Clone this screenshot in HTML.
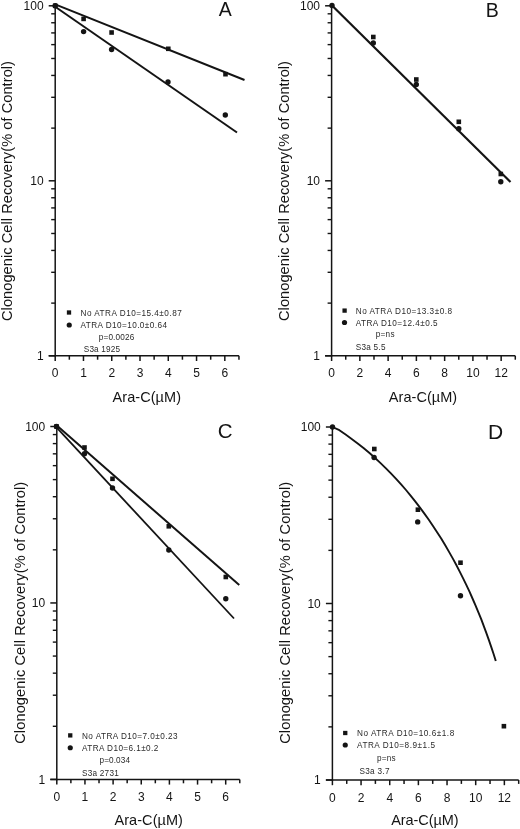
<!DOCTYPE html>
<html lang="en">
<head>
<meta charset="utf-8">
<title>Clonogenic Cell Recovery vs Ara-C</title>
<style>
html,body{margin:0;padding:0;background:#fff;}
body{width:520px;height:829px;overflow:hidden;}
svg{display:block;}
text{white-space:pre;}
</style>
</head>
<body>
<svg width="520" height="829" viewBox="0 0 520 829" font-family='"Liberation Sans", Arial, Helvetica, sans-serif' fill="#141414">
<rect width="520" height="829" fill="#ffffff"/>
<defs><filter id="scan" x="0" y="0" width="100%" height="100%" filterUnits="userSpaceOnUse" color-interpolation-filters="sRGB"><feGaussianBlur stdDeviation="0.38"/></filter></defs>
<g filter="url(#scan)">
<g id="panel-A">
<line x1="55.20" y1="5.30" x2="55.20" y2="356.55" stroke="#141414" stroke-width="1.5" stroke-linecap="butt"/>
<line x1="48.70" y1="355.80" x2="238.95" y2="355.80" stroke="#141414" stroke-width="1.5" stroke-linecap="butt"/>
<line x1="48.70" y1="355.80" x2="55.20" y2="355.80" stroke="#141414" stroke-width="1.5" stroke-linecap="butt"/>
<line x1="51.20" y1="303.12" x2="55.20" y2="303.12" stroke="#141414" stroke-width="1.4" stroke-linecap="butt"/>
<line x1="51.20" y1="272.30" x2="55.20" y2="272.30" stroke="#141414" stroke-width="1.4" stroke-linecap="butt"/>
<line x1="51.20" y1="250.44" x2="55.20" y2="250.44" stroke="#141414" stroke-width="1.4" stroke-linecap="butt"/>
<line x1="51.20" y1="233.48" x2="55.20" y2="233.48" stroke="#141414" stroke-width="1.4" stroke-linecap="butt"/>
<line x1="51.20" y1="219.62" x2="55.20" y2="219.62" stroke="#141414" stroke-width="1.4" stroke-linecap="butt"/>
<line x1="51.20" y1="207.91" x2="55.20" y2="207.91" stroke="#141414" stroke-width="1.4" stroke-linecap="butt"/>
<line x1="51.20" y1="197.76" x2="55.20" y2="197.76" stroke="#141414" stroke-width="1.4" stroke-linecap="butt"/>
<line x1="51.20" y1="188.81" x2="55.20" y2="188.81" stroke="#141414" stroke-width="1.4" stroke-linecap="butt"/>
<line x1="48.70" y1="180.80" x2="55.20" y2="180.80" stroke="#141414" stroke-width="1.5" stroke-linecap="butt"/>
<line x1="51.20" y1="128.12" x2="55.20" y2="128.12" stroke="#141414" stroke-width="1.4" stroke-linecap="butt"/>
<line x1="51.20" y1="97.30" x2="55.20" y2="97.30" stroke="#141414" stroke-width="1.4" stroke-linecap="butt"/>
<line x1="51.20" y1="75.44" x2="55.20" y2="75.44" stroke="#141414" stroke-width="1.4" stroke-linecap="butt"/>
<line x1="51.20" y1="58.48" x2="55.20" y2="58.48" stroke="#141414" stroke-width="1.4" stroke-linecap="butt"/>
<line x1="51.20" y1="44.62" x2="55.20" y2="44.62" stroke="#141414" stroke-width="1.4" stroke-linecap="butt"/>
<line x1="51.20" y1="32.91" x2="55.20" y2="32.91" stroke="#141414" stroke-width="1.4" stroke-linecap="butt"/>
<line x1="51.20" y1="22.76" x2="55.20" y2="22.76" stroke="#141414" stroke-width="1.4" stroke-linecap="butt"/>
<line x1="51.20" y1="13.81" x2="55.20" y2="13.81" stroke="#141414" stroke-width="1.4" stroke-linecap="butt"/>
<line x1="48.70" y1="5.80" x2="55.20" y2="5.80" stroke="#141414" stroke-width="1.5" stroke-linecap="butt"/>
<text x="43.60" y="10.10" font-size="12" text-anchor="end">100</text>
<text x="43.60" y="185.10" font-size="12" text-anchor="end">10</text>
<text x="43.60" y="360.10" font-size="12" text-anchor="end">1</text>
<line x1="55.20" y1="355.80" x2="55.20" y2="361.00" stroke="#141414" stroke-width="1.5" stroke-linecap="butt"/>
<line x1="69.34" y1="355.80" x2="69.34" y2="359.70" stroke="#141414" stroke-width="1.5" stroke-linecap="butt"/>
<line x1="83.47" y1="355.80" x2="83.47" y2="361.00" stroke="#141414" stroke-width="1.5" stroke-linecap="butt"/>
<line x1="97.61" y1="355.80" x2="97.61" y2="359.70" stroke="#141414" stroke-width="1.5" stroke-linecap="butt"/>
<line x1="111.74" y1="355.80" x2="111.74" y2="361.00" stroke="#141414" stroke-width="1.5" stroke-linecap="butt"/>
<line x1="125.88" y1="355.80" x2="125.88" y2="359.70" stroke="#141414" stroke-width="1.5" stroke-linecap="butt"/>
<line x1="140.01" y1="355.80" x2="140.01" y2="361.00" stroke="#141414" stroke-width="1.5" stroke-linecap="butt"/>
<line x1="154.14" y1="355.80" x2="154.14" y2="359.70" stroke="#141414" stroke-width="1.5" stroke-linecap="butt"/>
<line x1="168.28" y1="355.80" x2="168.28" y2="361.00" stroke="#141414" stroke-width="1.5" stroke-linecap="butt"/>
<line x1="182.42" y1="355.80" x2="182.42" y2="359.70" stroke="#141414" stroke-width="1.5" stroke-linecap="butt"/>
<line x1="196.55" y1="355.80" x2="196.55" y2="361.00" stroke="#141414" stroke-width="1.5" stroke-linecap="butt"/>
<line x1="210.69" y1="355.80" x2="210.69" y2="359.70" stroke="#141414" stroke-width="1.5" stroke-linecap="butt"/>
<line x1="224.82" y1="355.80" x2="224.82" y2="361.00" stroke="#141414" stroke-width="1.5" stroke-linecap="butt"/>
<line x1="238.95" y1="355.80" x2="238.95" y2="359.70" stroke="#141414" stroke-width="1.5" stroke-linecap="butt"/>
<text x="55.20" y="377.40" font-size="12" text-anchor="middle">0</text>
<text x="83.47" y="377.40" font-size="12" text-anchor="middle">1</text>
<text x="111.74" y="377.40" font-size="12" text-anchor="middle">2</text>
<text x="140.01" y="377.40" font-size="12" text-anchor="middle">3</text>
<text x="168.28" y="377.40" font-size="12" text-anchor="middle">4</text>
<text x="196.55" y="377.40" font-size="12" text-anchor="middle">5</text>
<text x="224.82" y="377.40" font-size="12" text-anchor="middle">6</text>
<text x="112.60" y="401.60" font-size="14.5" text-anchor="start" textLength="68.40" lengthAdjust="spacing">Ara-C(µM)</text>
<text transform="translate(12.30,321.00) rotate(-90)" font-size="14.6" textLength="260.00" lengthAdjust="spacing">Clonogenic Cell Recovery(% of Control)</text>
<text x="218.70" y="16.00" font-size="19.5" text-anchor="start">A</text>
<line x1="55.20" y1="4.40" x2="244.50" y2="80.00" stroke="#141414" stroke-width="2.0" stroke-linecap="butt"/>
<line x1="55.20" y1="6.80" x2="237.00" y2="132.50" stroke="#141414" stroke-width="2.0" stroke-linecap="butt"/>
<rect x="52.90" y="3.50" width="4.6" height="4.6" fill="#141414"/>
<rect x="81.30" y="16.60" width="4.6" height="4.6" fill="#141414"/>
<rect x="109.30" y="30.20" width="4.6" height="4.6" fill="#141414"/>
<rect x="166.00" y="46.50" width="4.6" height="4.6" fill="#141414"/>
<rect x="223.20" y="71.90" width="4.6" height="4.6" fill="#141414"/>
<circle cx="55.20" cy="5.80" r="2.7" fill="#141414"/>
<circle cx="83.60" cy="31.60" r="2.7" fill="#141414"/>
<circle cx="111.60" cy="49.50" r="2.7" fill="#141414"/>
<circle cx="168.00" cy="82.00" r="2.7" fill="#141414"/>
<circle cx="225.30" cy="115.00" r="2.7" fill="#141414"/>
<rect x="66.85" y="310.35" width="4.3" height="4.3" fill="#141414"/>
<circle cx="69.25" cy="325.00" r="2.6" fill="#141414"/>
<text x="80.50" y="315.50" font-size="8.2" text-anchor="start" textLength="101.25" lengthAdjust="spacing" fill="#2a2a2a">No ATRA D10=15.4±0.87</text>
<text x="80.50" y="328.00" font-size="8.2" text-anchor="start" textLength="86.50" lengthAdjust="spacing" fill="#2a2a2a">ATRA D10=10.0±0.64</text>
<text x="98.75" y="339.50" font-size="8.2" text-anchor="start" textLength="35.50" lengthAdjust="spacing" fill="#2a2a2a">p=0.0026</text>
<text x="83.75" y="352.00" font-size="8.2" text-anchor="start" textLength="36.25" lengthAdjust="spacing" fill="#2a2a2a">S3a 1925</text>
</g>
<g id="panel-B">
<line x1="331.60" y1="5.30" x2="331.60" y2="356.55" stroke="#141414" stroke-width="1.5" stroke-linecap="butt"/>
<line x1="325.10" y1="355.80" x2="515.29" y2="355.80" stroke="#141414" stroke-width="1.5" stroke-linecap="butt"/>
<line x1="325.10" y1="355.80" x2="331.60" y2="355.80" stroke="#141414" stroke-width="1.5" stroke-linecap="butt"/>
<line x1="327.60" y1="303.12" x2="331.60" y2="303.12" stroke="#141414" stroke-width="1.4" stroke-linecap="butt"/>
<line x1="327.60" y1="272.30" x2="331.60" y2="272.30" stroke="#141414" stroke-width="1.4" stroke-linecap="butt"/>
<line x1="327.60" y1="250.44" x2="331.60" y2="250.44" stroke="#141414" stroke-width="1.4" stroke-linecap="butt"/>
<line x1="327.60" y1="233.48" x2="331.60" y2="233.48" stroke="#141414" stroke-width="1.4" stroke-linecap="butt"/>
<line x1="327.60" y1="219.62" x2="331.60" y2="219.62" stroke="#141414" stroke-width="1.4" stroke-linecap="butt"/>
<line x1="327.60" y1="207.91" x2="331.60" y2="207.91" stroke="#141414" stroke-width="1.4" stroke-linecap="butt"/>
<line x1="327.60" y1="197.76" x2="331.60" y2="197.76" stroke="#141414" stroke-width="1.4" stroke-linecap="butt"/>
<line x1="327.60" y1="188.81" x2="331.60" y2="188.81" stroke="#141414" stroke-width="1.4" stroke-linecap="butt"/>
<line x1="325.10" y1="180.80" x2="331.60" y2="180.80" stroke="#141414" stroke-width="1.5" stroke-linecap="butt"/>
<line x1="327.60" y1="128.12" x2="331.60" y2="128.12" stroke="#141414" stroke-width="1.4" stroke-linecap="butt"/>
<line x1="327.60" y1="97.30" x2="331.60" y2="97.30" stroke="#141414" stroke-width="1.4" stroke-linecap="butt"/>
<line x1="327.60" y1="75.44" x2="331.60" y2="75.44" stroke="#141414" stroke-width="1.4" stroke-linecap="butt"/>
<line x1="327.60" y1="58.48" x2="331.60" y2="58.48" stroke="#141414" stroke-width="1.4" stroke-linecap="butt"/>
<line x1="327.60" y1="44.62" x2="331.60" y2="44.62" stroke="#141414" stroke-width="1.4" stroke-linecap="butt"/>
<line x1="327.60" y1="32.91" x2="331.60" y2="32.91" stroke="#141414" stroke-width="1.4" stroke-linecap="butt"/>
<line x1="327.60" y1="22.76" x2="331.60" y2="22.76" stroke="#141414" stroke-width="1.4" stroke-linecap="butt"/>
<line x1="327.60" y1="13.81" x2="331.60" y2="13.81" stroke="#141414" stroke-width="1.4" stroke-linecap="butt"/>
<line x1="325.10" y1="5.80" x2="331.60" y2="5.80" stroke="#141414" stroke-width="1.5" stroke-linecap="butt"/>
<text x="320.00" y="10.10" font-size="12" text-anchor="end">100</text>
<text x="320.00" y="185.10" font-size="12" text-anchor="end">10</text>
<text x="320.00" y="360.10" font-size="12" text-anchor="end">1</text>
<line x1="331.60" y1="355.80" x2="331.60" y2="361.00" stroke="#141414" stroke-width="1.5" stroke-linecap="butt"/>
<line x1="345.73" y1="355.80" x2="345.73" y2="359.70" stroke="#141414" stroke-width="1.5" stroke-linecap="butt"/>
<line x1="359.86" y1="355.80" x2="359.86" y2="361.00" stroke="#141414" stroke-width="1.5" stroke-linecap="butt"/>
<line x1="373.99" y1="355.80" x2="373.99" y2="359.70" stroke="#141414" stroke-width="1.5" stroke-linecap="butt"/>
<line x1="388.12" y1="355.80" x2="388.12" y2="361.00" stroke="#141414" stroke-width="1.5" stroke-linecap="butt"/>
<line x1="402.25" y1="355.80" x2="402.25" y2="359.70" stroke="#141414" stroke-width="1.5" stroke-linecap="butt"/>
<line x1="416.38" y1="355.80" x2="416.38" y2="361.00" stroke="#141414" stroke-width="1.5" stroke-linecap="butt"/>
<line x1="430.51" y1="355.80" x2="430.51" y2="359.70" stroke="#141414" stroke-width="1.5" stroke-linecap="butt"/>
<line x1="444.64" y1="355.80" x2="444.64" y2="361.00" stroke="#141414" stroke-width="1.5" stroke-linecap="butt"/>
<line x1="458.77" y1="355.80" x2="458.77" y2="359.70" stroke="#141414" stroke-width="1.5" stroke-linecap="butt"/>
<line x1="472.90" y1="355.80" x2="472.90" y2="361.00" stroke="#141414" stroke-width="1.5" stroke-linecap="butt"/>
<line x1="487.03" y1="355.80" x2="487.03" y2="359.70" stroke="#141414" stroke-width="1.5" stroke-linecap="butt"/>
<line x1="501.16" y1="355.80" x2="501.16" y2="361.00" stroke="#141414" stroke-width="1.5" stroke-linecap="butt"/>
<line x1="515.29" y1="355.80" x2="515.29" y2="359.70" stroke="#141414" stroke-width="1.5" stroke-linecap="butt"/>
<text x="331.60" y="377.40" font-size="12" text-anchor="middle">0</text>
<text x="359.86" y="377.40" font-size="12" text-anchor="middle">2</text>
<text x="388.12" y="377.40" font-size="12" text-anchor="middle">4</text>
<text x="416.38" y="377.40" font-size="12" text-anchor="middle">6</text>
<text x="444.64" y="377.40" font-size="12" text-anchor="middle">8</text>
<text x="472.90" y="377.40" font-size="12" text-anchor="middle">10</text>
<text x="501.16" y="377.40" font-size="12" text-anchor="middle">12</text>
<text x="388.80" y="402.00" font-size="14.5" text-anchor="start" textLength="68.40" lengthAdjust="spacing">Ara-C(µM)</text>
<text transform="translate(289.20,321.00) rotate(-90)" font-size="14.6" textLength="260.00" lengthAdjust="spacing">Clonogenic Cell Recovery(% of Control)</text>
<text x="485.80" y="17.20" font-size="19.5" text-anchor="start">B</text>
<line x1="332.00" y1="5.50" x2="510.50" y2="182.00" stroke="#141414" stroke-width="2.2" stroke-linecap="butt"/>
<rect x="371.00" y="34.70" width="4.6" height="4.6" fill="#141414"/>
<rect x="414.00" y="77.20" width="4.6" height="4.6" fill="#141414"/>
<rect x="456.50" y="119.50" width="4.6" height="4.6" fill="#141414"/>
<rect x="498.50" y="171.70" width="4.6" height="4.6" fill="#141414"/>
<circle cx="332.00" cy="5.50" r="2.7" fill="#141414"/>
<circle cx="373.30" cy="43.00" r="2.7" fill="#141414"/>
<circle cx="416.30" cy="84.50" r="2.7" fill="#141414"/>
<circle cx="458.80" cy="128.80" r="2.7" fill="#141414"/>
<circle cx="500.80" cy="181.80" r="2.7" fill="#141414"/>
<rect x="342.45" y="308.45" width="4.3" height="4.3" fill="#141414"/>
<circle cx="344.50" cy="322.50" r="2.6" fill="#141414"/>
<text x="355.75" y="313.50" font-size="8.2" text-anchor="start" textLength="96.25" lengthAdjust="spacing" fill="#2a2a2a">No ATRA D10=13.3±0.8</text>
<text x="355.75" y="325.50" font-size="8.2" text-anchor="start" textLength="81.75" lengthAdjust="spacing" fill="#2a2a2a">ATRA D10=12.4±0.5</text>
<text x="375.75" y="337.00" font-size="8.2" text-anchor="start" textLength="18.75" lengthAdjust="spacing" fill="#2a2a2a">p=ns</text>
<text x="355.75" y="350.00" font-size="8.2" text-anchor="start" textLength="29.75" lengthAdjust="spacing" fill="#2a2a2a">S3a 5.5</text>
</g>
<g id="panel-C">
<line x1="56.80" y1="426.00" x2="56.80" y2="780.15" stroke="#141414" stroke-width="1.5" stroke-linecap="butt"/>
<line x1="50.30" y1="779.40" x2="239.77" y2="779.40" stroke="#141414" stroke-width="1.5" stroke-linecap="butt"/>
<line x1="50.30" y1="779.40" x2="56.80" y2="779.40" stroke="#141414" stroke-width="1.5" stroke-linecap="butt"/>
<line x1="52.80" y1="726.28" x2="56.80" y2="726.28" stroke="#141414" stroke-width="1.4" stroke-linecap="butt"/>
<line x1="52.80" y1="695.21" x2="56.80" y2="695.21" stroke="#141414" stroke-width="1.4" stroke-linecap="butt"/>
<line x1="52.80" y1="673.17" x2="56.80" y2="673.17" stroke="#141414" stroke-width="1.4" stroke-linecap="butt"/>
<line x1="52.80" y1="656.07" x2="56.80" y2="656.07" stroke="#141414" stroke-width="1.4" stroke-linecap="butt"/>
<line x1="52.80" y1="642.10" x2="56.80" y2="642.10" stroke="#141414" stroke-width="1.4" stroke-linecap="butt"/>
<line x1="52.80" y1="630.28" x2="56.80" y2="630.28" stroke="#141414" stroke-width="1.4" stroke-linecap="butt"/>
<line x1="52.80" y1="620.05" x2="56.80" y2="620.05" stroke="#141414" stroke-width="1.4" stroke-linecap="butt"/>
<line x1="52.80" y1="611.02" x2="56.80" y2="611.02" stroke="#141414" stroke-width="1.4" stroke-linecap="butt"/>
<line x1="50.30" y1="602.95" x2="56.80" y2="602.95" stroke="#141414" stroke-width="1.5" stroke-linecap="butt"/>
<line x1="52.80" y1="549.83" x2="56.80" y2="549.83" stroke="#141414" stroke-width="1.4" stroke-linecap="butt"/>
<line x1="52.80" y1="518.76" x2="56.80" y2="518.76" stroke="#141414" stroke-width="1.4" stroke-linecap="butt"/>
<line x1="52.80" y1="496.72" x2="56.80" y2="496.72" stroke="#141414" stroke-width="1.4" stroke-linecap="butt"/>
<line x1="52.80" y1="479.62" x2="56.80" y2="479.62" stroke="#141414" stroke-width="1.4" stroke-linecap="butt"/>
<line x1="52.80" y1="465.65" x2="56.80" y2="465.65" stroke="#141414" stroke-width="1.4" stroke-linecap="butt"/>
<line x1="52.80" y1="453.83" x2="56.80" y2="453.83" stroke="#141414" stroke-width="1.4" stroke-linecap="butt"/>
<line x1="52.80" y1="443.60" x2="56.80" y2="443.60" stroke="#141414" stroke-width="1.4" stroke-linecap="butt"/>
<line x1="52.80" y1="434.57" x2="56.80" y2="434.57" stroke="#141414" stroke-width="1.4" stroke-linecap="butt"/>
<line x1="50.30" y1="426.50" x2="56.80" y2="426.50" stroke="#141414" stroke-width="1.5" stroke-linecap="butt"/>
<text x="45.20" y="430.80" font-size="12" text-anchor="end">100</text>
<text x="45.20" y="607.25" font-size="12" text-anchor="end">10</text>
<text x="45.20" y="783.70" font-size="12" text-anchor="end">1</text>
<line x1="56.80" y1="779.40" x2="56.80" y2="784.60" stroke="#141414" stroke-width="1.5" stroke-linecap="butt"/>
<line x1="70.88" y1="779.40" x2="70.88" y2="783.30" stroke="#141414" stroke-width="1.5" stroke-linecap="butt"/>
<line x1="84.95" y1="779.40" x2="84.95" y2="784.60" stroke="#141414" stroke-width="1.5" stroke-linecap="butt"/>
<line x1="99.02" y1="779.40" x2="99.02" y2="783.30" stroke="#141414" stroke-width="1.5" stroke-linecap="butt"/>
<line x1="113.10" y1="779.40" x2="113.10" y2="784.60" stroke="#141414" stroke-width="1.5" stroke-linecap="butt"/>
<line x1="127.17" y1="779.40" x2="127.17" y2="783.30" stroke="#141414" stroke-width="1.5" stroke-linecap="butt"/>
<line x1="141.25" y1="779.40" x2="141.25" y2="784.60" stroke="#141414" stroke-width="1.5" stroke-linecap="butt"/>
<line x1="155.32" y1="779.40" x2="155.32" y2="783.30" stroke="#141414" stroke-width="1.5" stroke-linecap="butt"/>
<line x1="169.40" y1="779.40" x2="169.40" y2="784.60" stroke="#141414" stroke-width="1.5" stroke-linecap="butt"/>
<line x1="183.47" y1="779.40" x2="183.47" y2="783.30" stroke="#141414" stroke-width="1.5" stroke-linecap="butt"/>
<line x1="197.55" y1="779.40" x2="197.55" y2="784.60" stroke="#141414" stroke-width="1.5" stroke-linecap="butt"/>
<line x1="211.62" y1="779.40" x2="211.62" y2="783.30" stroke="#141414" stroke-width="1.5" stroke-linecap="butt"/>
<line x1="225.70" y1="779.40" x2="225.70" y2="784.60" stroke="#141414" stroke-width="1.5" stroke-linecap="butt"/>
<line x1="239.77" y1="779.40" x2="239.77" y2="783.30" stroke="#141414" stroke-width="1.5" stroke-linecap="butt"/>
<text x="56.80" y="801.00" font-size="12" text-anchor="middle">0</text>
<text x="84.95" y="801.00" font-size="12" text-anchor="middle">1</text>
<text x="113.10" y="801.00" font-size="12" text-anchor="middle">2</text>
<text x="141.25" y="801.00" font-size="12" text-anchor="middle">3</text>
<text x="169.40" y="801.00" font-size="12" text-anchor="middle">4</text>
<text x="197.55" y="801.00" font-size="12" text-anchor="middle">5</text>
<text x="225.70" y="801.00" font-size="12" text-anchor="middle">6</text>
<text x="114.50" y="824.50" font-size="14.5" text-anchor="start" textLength="68.40" lengthAdjust="spacing">Ara-C(µM)</text>
<text transform="translate(24.60,743.80) rotate(-90)" font-size="14.6" textLength="262.00" lengthAdjust="spacing">Clonogenic Cell Recovery(% of Control)</text>
<text x="217.70" y="437.80" font-size="20.5" text-anchor="start">C</text>
<line x1="56.50" y1="425.30" x2="239.25" y2="585.00" stroke="#141414" stroke-width="2.0" stroke-linecap="butt"/>
<line x1="56.50" y1="427.40" x2="234.00" y2="618.50" stroke="#141414" stroke-width="1.8" stroke-linecap="butt"/>
<rect x="54.20" y="424.20" width="4.6" height="4.6" fill="#141414"/>
<rect x="82.20" y="445.20" width="4.6" height="4.6" fill="#141414"/>
<rect x="110.20" y="476.50" width="4.6" height="4.6" fill="#141414"/>
<rect x="166.50" y="524.00" width="4.6" height="4.6" fill="#141414"/>
<rect x="223.50" y="574.70" width="4.6" height="4.6" fill="#141414"/>
<circle cx="56.50" cy="426.50" r="2.7" fill="#141414"/>
<circle cx="84.50" cy="453.80" r="2.7" fill="#141414"/>
<circle cx="112.50" cy="488.00" r="2.7" fill="#141414"/>
<circle cx="168.80" cy="550.00" r="2.7" fill="#141414"/>
<circle cx="225.80" cy="598.80" r="2.7" fill="#141414"/>
<rect x="68.10" y="733.25" width="4.3" height="4.3" fill="#141414"/>
<circle cx="70.25" cy="747.75" r="2.6" fill="#141414"/>
<text x="82.00" y="738.50" font-size="8.2" text-anchor="start" textLength="95.50" lengthAdjust="spacing" fill="#2a2a2a">No ATRA D10=7.0±0.23</text>
<text x="82.00" y="750.50" font-size="8.2" text-anchor="start" textLength="76.25" lengthAdjust="spacing" fill="#2a2a2a">ATRA D10=6.1±0.2</text>
<text x="99.50" y="762.60" font-size="8.2" text-anchor="start" textLength="30.50" lengthAdjust="spacing" fill="#2a2a2a">p=0.034</text>
<text x="82.00" y="776.00" font-size="8.2" text-anchor="start" textLength="36.75" lengthAdjust="spacing" fill="#2a2a2a">S3a 2731</text>
</g>
<g id="panel-D">
<line x1="332.40" y1="426.50" x2="332.40" y2="780.75" stroke="#141414" stroke-width="1.5" stroke-linecap="butt"/>
<line x1="325.90" y1="780.00" x2="518.69" y2="780.00" stroke="#141414" stroke-width="1.5" stroke-linecap="butt"/>
<line x1="325.90" y1="780.00" x2="332.40" y2="780.00" stroke="#141414" stroke-width="1.5" stroke-linecap="butt"/>
<line x1="328.40" y1="726.87" x2="332.40" y2="726.87" stroke="#141414" stroke-width="1.4" stroke-linecap="butt"/>
<line x1="328.40" y1="695.79" x2="332.40" y2="695.79" stroke="#141414" stroke-width="1.4" stroke-linecap="butt"/>
<line x1="328.40" y1="673.74" x2="332.40" y2="673.74" stroke="#141414" stroke-width="1.4" stroke-linecap="butt"/>
<line x1="328.40" y1="656.63" x2="332.40" y2="656.63" stroke="#141414" stroke-width="1.4" stroke-linecap="butt"/>
<line x1="328.40" y1="642.66" x2="332.40" y2="642.66" stroke="#141414" stroke-width="1.4" stroke-linecap="butt"/>
<line x1="328.40" y1="630.84" x2="332.40" y2="630.84" stroke="#141414" stroke-width="1.4" stroke-linecap="butt"/>
<line x1="328.40" y1="620.60" x2="332.40" y2="620.60" stroke="#141414" stroke-width="1.4" stroke-linecap="butt"/>
<line x1="328.40" y1="611.58" x2="332.40" y2="611.58" stroke="#141414" stroke-width="1.4" stroke-linecap="butt"/>
<line x1="325.90" y1="603.50" x2="332.40" y2="603.50" stroke="#141414" stroke-width="1.5" stroke-linecap="butt"/>
<line x1="328.40" y1="550.37" x2="332.40" y2="550.37" stroke="#141414" stroke-width="1.4" stroke-linecap="butt"/>
<line x1="328.40" y1="519.29" x2="332.40" y2="519.29" stroke="#141414" stroke-width="1.4" stroke-linecap="butt"/>
<line x1="328.40" y1="497.24" x2="332.40" y2="497.24" stroke="#141414" stroke-width="1.4" stroke-linecap="butt"/>
<line x1="328.40" y1="480.13" x2="332.40" y2="480.13" stroke="#141414" stroke-width="1.4" stroke-linecap="butt"/>
<line x1="328.40" y1="466.16" x2="332.40" y2="466.16" stroke="#141414" stroke-width="1.4" stroke-linecap="butt"/>
<line x1="328.40" y1="454.34" x2="332.40" y2="454.34" stroke="#141414" stroke-width="1.4" stroke-linecap="butt"/>
<line x1="328.40" y1="444.10" x2="332.40" y2="444.10" stroke="#141414" stroke-width="1.4" stroke-linecap="butt"/>
<line x1="328.40" y1="435.08" x2="332.40" y2="435.08" stroke="#141414" stroke-width="1.4" stroke-linecap="butt"/>
<line x1="325.90" y1="427.00" x2="332.40" y2="427.00" stroke="#141414" stroke-width="1.5" stroke-linecap="butt"/>
<text x="320.80" y="431.30" font-size="12" text-anchor="end">100</text>
<text x="320.80" y="607.80" font-size="12" text-anchor="end">10</text>
<text x="320.80" y="784.30" font-size="12" text-anchor="end">1</text>
<line x1="332.40" y1="780.00" x2="332.40" y2="785.20" stroke="#141414" stroke-width="1.5" stroke-linecap="butt"/>
<line x1="346.73" y1="780.00" x2="346.73" y2="783.90" stroke="#141414" stroke-width="1.5" stroke-linecap="butt"/>
<line x1="361.06" y1="780.00" x2="361.06" y2="785.20" stroke="#141414" stroke-width="1.5" stroke-linecap="butt"/>
<line x1="375.39" y1="780.00" x2="375.39" y2="783.90" stroke="#141414" stroke-width="1.5" stroke-linecap="butt"/>
<line x1="389.72" y1="780.00" x2="389.72" y2="785.20" stroke="#141414" stroke-width="1.5" stroke-linecap="butt"/>
<line x1="404.05" y1="780.00" x2="404.05" y2="783.90" stroke="#141414" stroke-width="1.5" stroke-linecap="butt"/>
<line x1="418.38" y1="780.00" x2="418.38" y2="785.20" stroke="#141414" stroke-width="1.5" stroke-linecap="butt"/>
<line x1="432.71" y1="780.00" x2="432.71" y2="783.90" stroke="#141414" stroke-width="1.5" stroke-linecap="butt"/>
<line x1="447.04" y1="780.00" x2="447.04" y2="785.20" stroke="#141414" stroke-width="1.5" stroke-linecap="butt"/>
<line x1="461.37" y1="780.00" x2="461.37" y2="783.90" stroke="#141414" stroke-width="1.5" stroke-linecap="butt"/>
<line x1="475.70" y1="780.00" x2="475.70" y2="785.20" stroke="#141414" stroke-width="1.5" stroke-linecap="butt"/>
<line x1="490.03" y1="780.00" x2="490.03" y2="783.90" stroke="#141414" stroke-width="1.5" stroke-linecap="butt"/>
<line x1="504.36" y1="780.00" x2="504.36" y2="785.20" stroke="#141414" stroke-width="1.5" stroke-linecap="butt"/>
<line x1="518.69" y1="780.00" x2="518.69" y2="783.90" stroke="#141414" stroke-width="1.5" stroke-linecap="butt"/>
<text x="332.40" y="801.60" font-size="12" text-anchor="middle">0</text>
<text x="361.06" y="801.60" font-size="12" text-anchor="middle">2</text>
<text x="389.72" y="801.60" font-size="12" text-anchor="middle">4</text>
<text x="418.38" y="801.60" font-size="12" text-anchor="middle">6</text>
<text x="447.04" y="801.60" font-size="12" text-anchor="middle">8</text>
<text x="475.70" y="801.60" font-size="12" text-anchor="middle">10</text>
<text x="504.36" y="801.60" font-size="12" text-anchor="middle">12</text>
<text x="391.20" y="825.20" font-size="14.5" text-anchor="start" textLength="67.50" lengthAdjust="spacing">Ara-C(µM)</text>
<text transform="translate(289.50,743.80) rotate(-90)" font-size="14.6" textLength="262.00" lengthAdjust="spacing">Clonogenic Cell Recovery(% of Control)</text>
<text x="488.00" y="439.20" font-size="21" text-anchor="start">D</text>
<path d="M332.50,427.00 L339.40,430.20 L345.60,434.50 L351.70,438.90 L357.70,443.40 L363.50,448.00 L369.20,452.80 L374.80,457.80 L380.30,462.90 L385.70,468.10 L390.90,473.40 L396.10,478.80 L401.10,484.30 L406.00,490.00 L410.80,495.80 L415.40,501.60 L420.00,507.60 L424.40,513.60 L428.80,519.70 L433.00,526.00 L437.10,532.20 L441.20,538.60 L445.10,545.00 L448.90,551.60 L452.60,558.10 L456.20,564.70 L459.60,571.40 L463.00,578.10 L466.30,584.90 L469.50,591.70 L472.50,598.50 L475.50,605.40 L478.40,612.30 L481.20,619.20 L483.80,626.20 L486.40,633.10 L488.90,640.10 L491.30,647.10 L493.60,654.00 L495.80,661.00" fill="none" stroke="#141414" stroke-width="1.9" stroke-linejoin="round"/>
<rect x="372.00" y="446.70" width="4.6" height="4.6" fill="#141414"/>
<rect x="415.60" y="507.40" width="4.6" height="4.6" fill="#141414"/>
<rect x="458.20" y="560.40" width="4.6" height="4.6" fill="#141414"/>
<rect x="501.60" y="723.90" width="4.6" height="4.6" fill="#141414"/>
<circle cx="332.50" cy="427.00" r="2.7" fill="#141414"/>
<circle cx="374.10" cy="457.50" r="2.7" fill="#141414"/>
<circle cx="417.70" cy="521.90" r="2.7" fill="#141414"/>
<circle cx="460.50" cy="595.80" r="2.7" fill="#141414"/>
<rect x="343.10" y="730.85" width="4.3" height="4.3" fill="#141414"/>
<circle cx="345.25" cy="745.00" r="2.6" fill="#141414"/>
<text x="357.00" y="735.50" font-size="8.2" text-anchor="start" textLength="97.25" lengthAdjust="spacing" fill="#2a2a2a">No ATRA D10=10.6±1.8</text>
<text x="357.00" y="747.50" font-size="8.2" text-anchor="start" textLength="78.00" lengthAdjust="spacing" fill="#2a2a2a">ATRA D10=8.9±1.5</text>
<text x="377.00" y="760.50" font-size="8.2" text-anchor="start" textLength="18.50" lengthAdjust="spacing" fill="#2a2a2a">p=ns</text>
<text x="359.50" y="773.50" font-size="8.2" text-anchor="start" textLength="30.00" lengthAdjust="spacing" fill="#2a2a2a">S3a 3.7</text>
</g>
</g>
</svg>
</body>
</html>
